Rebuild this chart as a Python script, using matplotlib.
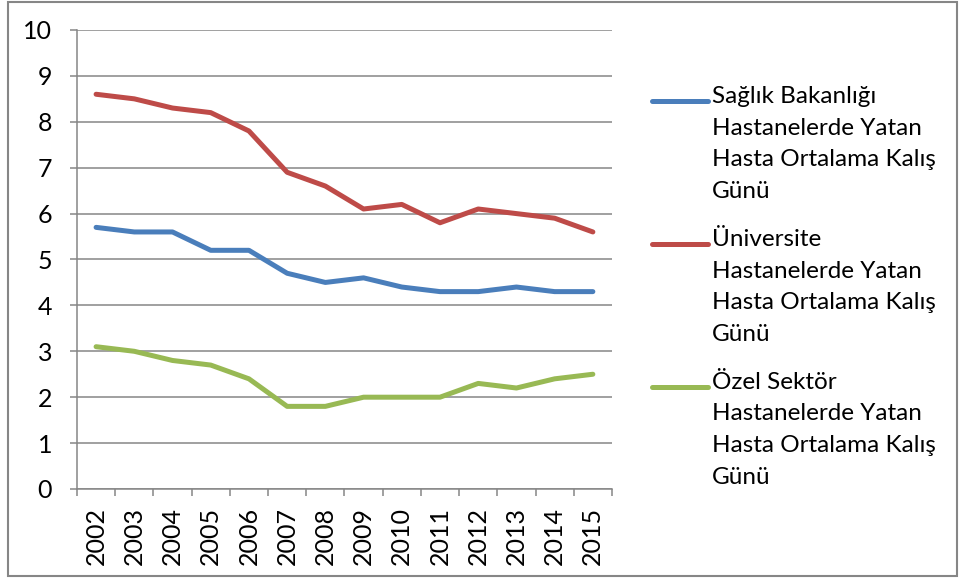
import matplotlib.pyplot as plt
from matplotlib.patches import Rectangle

years = ['2002', '2003', '2004', '2005', '2006', '2007', '2008',
         '2009', '2010', '2011', '2012', '2013', '2014', '2015']
saglik = [5.7, 5.6, 5.6, 5.2, 5.2, 4.7, 4.5, 4.6, 4.4, 4.3, 4.3, 4.4, 4.3, 4.3]
universite = [8.6, 8.5, 8.3, 8.2, 7.8, 6.9, 6.6, 6.1, 6.2, 5.8, 6.1, 6.0, 5.9, 5.6]
ozel = [3.1, 3.0, 2.8, 2.7, 2.4, 1.8, 1.8, 2.0, 2.0, 2.0, 2.3, 2.2, 2.4, 2.5]

labels = ['Sağlık Bakanlığı\nHastanelerde Yatan\nHasta Ortalama Kalış\nGünü',
          'Üniversite\nHastanelerde Yatan\nHasta Ortalama Kalış\nGünü',
          'Özel Sektör\nHastanelerde Yatan\nHasta Ortalama Kalış\nGünü']
colors = ['#4A7EBB', '#BE4B48', '#98B954']

plt.rcParams['font.family'] = ['Lato', 'DejaVu Sans']
grey = '#868686'
fs = 17.5

fig = plt.figure(figsize=(9.61, 5.78), dpi=100)
ax = fig.add_axes([0.0801, 0.154, 0.5567, 0.7941])

x = list(range(len(years)))
for vals, lab, col in zip([saglik, universite, ozel], labels, colors):
    ax.plot(x, vals, color=col, lw=3.6, solid_capstyle='round',
            solid_joinstyle='round', label=lab)

ax.set_xlim(-0.5, len(years) - 0.5)
ax.set_ylim(0, 10)
ax.set_yticks(range(0, 11))
ax.yaxis.grid(True, color=grey, lw=1.1)
ax.set_axisbelow(True)

# ticks sit on category boundaries, labels at centers
ax.set_xticks([i - 0.5 for i in range(len(years) + 1)])
ax.set_xticklabels([])
ax.set_xticks(x, minor=True)
ax.set_xticklabels(years, minor=True, rotation=90, fontsize=18)
ax.tick_params(axis='x', which='minor', length=0, pad=13)
ax.tick_params(axis='x', which='major', length=5, width=1.1, color=grey)
ax.tick_params(axis='y', length=5, width=1.1, color=grey, labelsize=18, pad=13)

for s in ['top', 'right']:
    ax.spines[s].set_visible(False)
for s in ['left', 'bottom']:
    ax.spines[s].set_color(grey)
    ax.spines[s].set_linewidth(1.1)

leg = ax.legend(loc='upper left', bbox_to_anchor=(1.075, 0.878), frameon=False,
                fontsize=fs, handlelength=2.3, handletextpad=0.16,
                labelspacing=1.1, borderpad=0, borderaxespad=0)
for t in leg.get_texts():
    t.set_linespacing(1.63)
for h in leg.get_lines():
    h.set_solid_capstyle('round')

# move each legend handle up to the first line of its label
fig.canvas.draw()
r = fig.canvas.get_renderer()
for h, t in zip(leg.get_lines(), leg.get_texts()):
    bb = t.get_window_extent(r)
    target = bb.y1 - fs * fig.dpi / 72 * 0.62
    tr = h.get_transform()
    ynew = tr.inverted().transform((0, target))[1]
    h.set_ydata([ynew] * len(h.get_ydata()))

fig.patches.append(Rectangle((8 / 961, 2 / 578), 949 / 961, 574 / 578,
                             transform=fig.transFigure, fill=False,
                             edgecolor=grey, lw=1.5))

fig.savefig('out.png', dpi=100)
